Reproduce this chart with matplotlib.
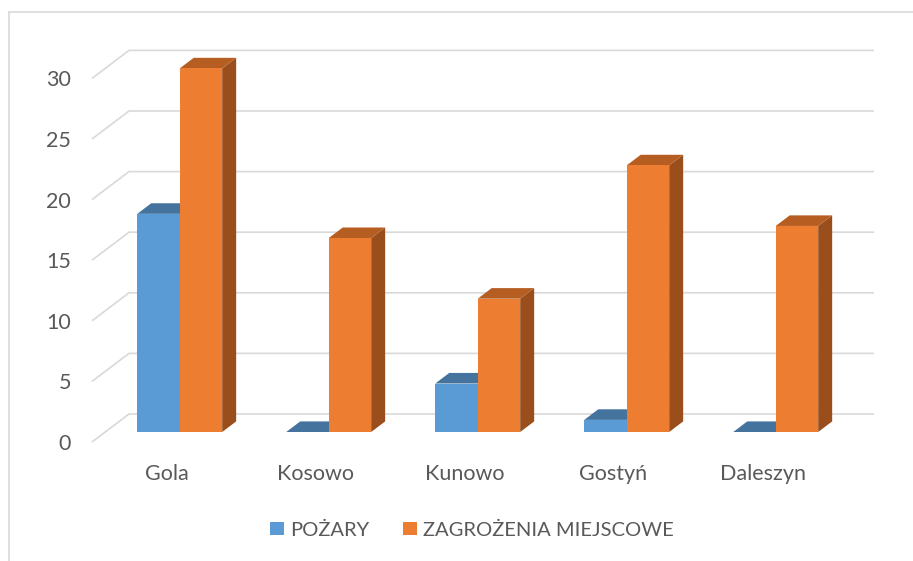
import matplotlib
matplotlib.use('Agg')
import matplotlib.pyplot as plt
from matplotlib.patches import Polygon, Rectangle
import numpy as np

# データ
categories = ['Gola', 'Kosowo', 'Kunowo', 'Gostyń', 'Daleszyn']
pozary = [18, 0, 4, 1, 0]
zagrozenia = [30, 16, 11, 22, 17]
series_names = ['POŻARY', 'ZAGROŻENIA MIEJSCOWE']
y_ticks = [0, 5, 10, 15, 20, 25, 30]

# 色
front_colors = ['#5B9BD5', '#ED7D31']
top_colors = ['#44739E', '#B65E22']
side_colors = ['#3E6A92', '#994E1C']
grid_color = '#D9D9D9'
text_color = '#595959'

plt.rcParams['font.family'] = ['Lato', 'DejaVu Sans']

W, H, DPI = 913, 561, 100
fig = plt.figure(figsize=(W / DPI, H / DPI), dpi=DPI)

# 前面の座標系 (ピクセル位置から)
left_px, right_px = 92, 837
bottom_px, top_px = 442, 78.4
ax = fig.add_axes([left_px / W, 1 - bottom_px / H,
                   (right_px - left_px) / W, (bottom_px - top_px) / H])
n = len(categories)
ax.set_xlim(0, n)
ax.set_ylim(0, 30)

# 奥行きベクトル (ピクセル -> データ単位)
depth_px = (37, 28)
ux = (right_px - left_px) / n
uy = (bottom_px - top_px) / 30
dx = depth_px[0] / ux
dy = depth_px[1] / uy

# 背面のグリッド線
for v in y_ticks:
    ax.plot([0, dx, n + dx], [v, v + dy, v + dy], color=grid_color,
            lw=1.2, clip_on=False, zorder=1, solid_capstyle='butt')

# 棒
bar_w = 0.285
f0, f1 = 10 / 28, 10 / 28 + 0.378
x = np.arange(n) + 0.5
for i in range(n):
    for s, vals in enumerate([pozary, zagrozenia]):
        h = vals[i]
        x0 = x[i] - bar_w + s * bar_w
        x1 = x0 + bar_w
        ox0, oy0 = f0 * dx, f0 * dy
        ox1, oy1 = f1 * dx, f1 * dy
        z = 2 + i * 0.1 + s * 0.05
        # 側面
        side = Polygon([(x1 + ox0, oy0), (x1 + ox1, oy1),
                        (x1 + ox1, h + oy1), (x1 + ox0, h + oy0)],
                       closed=True, fc=side_colors[s], ec='none',
                       clip_on=False, zorder=z)
        ax.add_patch(side)
        # 上面
        top = Polygon([(x0 + ox0, h + oy0), (x1 + ox0, h + oy0),
                       (x1 + ox1, h + oy1), (x0 + ox1, h + oy1)],
                      closed=True, fc=top_colors[s], ec='none',
                      clip_on=False, zorder=z + 0.01)
        ax.add_patch(top)
        # 前面
        front = Rectangle((x0 + ox0, oy0), bar_w, h, fc=front_colors[s],
                          ec='none', clip_on=False, zorder=z + 0.02)
        ax.add_patch(front)

# 軸ラベル
for sp in ax.spines.values():
    sp.set_visible(False)
ax.set_yticks(y_ticks)
ax.set_yticklabels([str(v) for v in y_ticks])
ax.set_xticks(x)
ax.set_xticklabels(categories)
ax.tick_params(axis='both', length=0, labelsize=15.5, labelcolor=text_color)
ax.tick_params(axis='y', pad=15)
ax.tick_params(axis='x', pad=16)
ax.patch.set_visible(False)

# 凡例
handles = [Rectangle((0, 0), 1, 1, fc=c, ec='none') for c in front_colors]
leg = fig.legend(handles, series_names, loc='center',
                 bbox_to_anchor=(472 / W, 1 - 530 / H), ncol=2, frameon=False,
                 fontsize=14.5, handlelength=0.68, handleheight=0.68,
                 handletextpad=0.3, columnspacing=1.7)
for t in leg.get_texts():
    t.set_color(text_color)

# 外枠
fig.add_artist(plt.Line2D([9 / W, 9 / W], [0, 1 - 12 / H], color=grid_color,
                          lw=1.2, transform=fig.transFigure))
fig.add_artist(plt.Line2D([9 / W, 1], [1 - 12 / H, 1 - 12 / H], color=grid_color,
                          lw=1.2, transform=fig.transFigure))

fig.savefig('out.png', dpi=DPI)
